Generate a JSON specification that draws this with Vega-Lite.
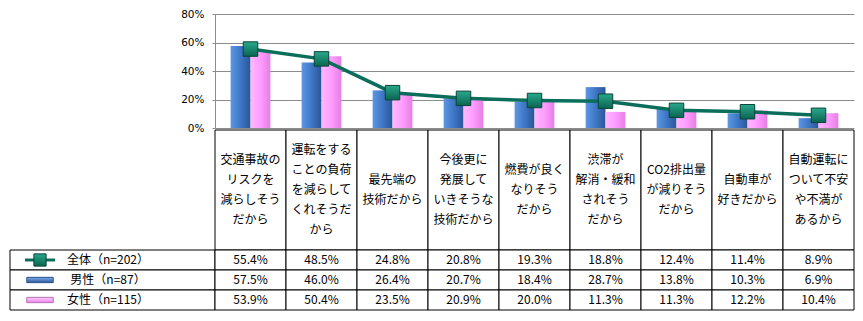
{
  "$schema": "https://vega.github.io/schema/vega-lite/v6.json",
  "padding": {"left": 9, "top": 9, "right": 5, "bottom": 5},
  "config": {"view": {"stroke": null}, "font": "Noto Sans CJK JP"},
  "datasets": {
    "d": [
      {"cat": "交通事故の\nリスクを\n減らしそう\nだから", "series": "全体（n=202）", "value": 0.554},
      {"cat": "運転をする\nことの負荷\nを減らして\nくれそうだ\nから", "series": "全体（n=202）", "value": 0.485},
      {"cat": "最先端の\n技術だから", "series": "全体（n=202）", "value": 0.248},
      {"cat": "今後更に\n発展して\nいきそうな\n技術だから", "series": "全体（n=202）", "value": 0.208},
      {"cat": "燃費が良く\nなりそう\nだから", "series": "全体（n=202）", "value": 0.193},
      {"cat": "渋滞が\n解消・緩和\nされそう\nだから", "series": "全体（n=202）", "value": 0.188},
      {"cat": "CO2排出量\nが減りそう\nだから", "series": "全体（n=202）", "value": 0.124},
      {"cat": "自動車が\n好きだから", "series": "全体（n=202）", "value": 0.114},
      {"cat": "自動運転に\nついて不安\nや不満が\nあるから", "series": "全体（n=202）", "value": 0.089},
      {"cat": "交通事故の\nリスクを\n減らしそう\nだから", "series": "男性（n=87）", "value": 0.575},
      {"cat": "運転をする\nことの負荷\nを減らして\nくれそうだ\nから", "series": "男性（n=87）", "value": 0.46},
      {"cat": "最先端の\n技術だから", "series": "男性（n=87）", "value": 0.264},
      {"cat": "今後更に\n発展して\nいきそうな\n技術だから", "series": "男性（n=87）", "value": 0.207},
      {"cat": "燃費が良く\nなりそう\nだから", "series": "男性（n=87）", "value": 0.184},
      {"cat": "渋滞が\n解消・緩和\nされそう\nだから", "series": "男性（n=87）", "value": 0.287},
      {"cat": "CO2排出量\nが減りそう\nだから", "series": "男性（n=87）", "value": 0.138},
      {"cat": "自動車が\n好きだから", "series": "男性（n=87）", "value": 0.103},
      {"cat": "自動運転に\nついて不安\nや不満が\nあるから", "series": "男性（n=87）", "value": 0.069},
      {"cat": "交通事故の\nリスクを\n減らしそう\nだから", "series": "女性（n=115）", "value": 0.539},
      {"cat": "運転をする\nことの負荷\nを減らして\nくれそうだ\nから", "series": "女性（n=115）", "value": 0.504},
      {"cat": "最先端の\n技術だから", "series": "女性（n=115）", "value": 0.235},
      {"cat": "今後更に\n発展して\nいきそうな\n技術だから", "series": "女性（n=115）", "value": 0.209},
      {"cat": "燃費が良く\nなりそう\nだから", "series": "女性（n=115）", "value": 0.2},
      {"cat": "渋滞が\n解消・緩和\nされそう\nだから", "series": "女性（n=115）", "value": 0.113},
      {"cat": "CO2排出量\nが減りそう\nだから", "series": "女性（n=115）", "value": 0.113},
      {"cat": "自動車が\n好きだから", "series": "女性（n=115）", "value": 0.122},
      {"cat": "自動運転に\nついて不安\nや不満が\nあるから", "series": "女性（n=115）", "value": 0.104}
    ],
    "series": [
      {"series": "全体（n=202）"},
      {"series": "男性（n=87）"},
      {"series": "女性（n=115）"}
    ]
  },
  "columns": 2,
  "spacing": 0,
  "bounds": "flush",
  "concat": [
    {
      "width": 205, "height": 116,
      "data": {"values": []},
      "mark": "text",
      "encoding": {}
    },
    {
      "width": 639, "height": 116,
      "data": {"name": "d"},
      "encoding": {
        "x": {"field": "cat", "type": "nominal", "sort": null, "axis": null,
              "scale": {"paddingInner": 0.44, "paddingOuter": 0.22}},
        "y": {"field": "value", "type": "quantitative",
              "scale": {"domain": [0, 0.8], "range": [114, 0], "nice": false},
              "axis": {"values": [0, 0.2, 0.4, 0.6, 0.8], "format": ".0%", "title": null,
                       "grid": true, "gridColor": "#8c8c8c", "gridOpacity": 1,
                       "domainColor": "#8c8c8c", "tickColor": "#8c8c8c", "tickSize": 3,
                       "labelPadding": 8, "labelFont": "DejaVu Sans", "labelFontSize": 10.5,
                       "labelColor": "#000000"}}
      },
      "layer": [
        {
          "transform": [{"filter": "datum.series === '男性（n=87）'"}],
          "mark": {"type": "bar", "fill": {"gradient": "linear", "x1": 0, "y1": 0, "x2": 1, "y2": 0,
                   "stops": [{"offset": 0, "color": "#5d97e2"}, {"offset": 0.5, "color": "#3f77c6"}, {"offset": 1, "color": "#2b5698"}]}},
          "encoding": {"xOffset": {"field": "series", "type": "nominal", "scale": {"domain": ["男性（n=87）", "女性（n=115）"]}}}
        },
        {
          "transform": [{"filter": "datum.series === '女性（n=115）'"}],
          "mark": {"type": "bar", "fill": {"gradient": "linear", "x1": 0, "y1": 0, "x2": 1, "y2": 0,
                   "stops": [{"offset": 0, "color": "#ffb8ff"}, {"offset": 0.5, "color": "#ff9cff"}, {"offset": 1, "color": "#e47fe4"}]}},
          "encoding": {"xOffset": {"field": "series", "type": "nominal", "scale": {"domain": ["男性（n=87）", "女性（n=115）"]}}}
        },
        {
          "transform": [{"filter": "datum.series === '全体（n=202）'"}],
          "mark": {"type": "line", "color": "#0b6e5a", "strokeWidth": 3.5}
        },
        {
          "transform": [{"filter": "datum.series === '全体（n=202）'"}],
          "mark": {"type": "point", "shape": "square", "size": 210, "filled": true, "opacity": 1,
                   "fill": {"gradient": "linear", "x1": 0, "y1": 0, "x2": 0, "y2": 1,
                            "stops": [{"offset": 0, "color": "#2aa88c"}, {"offset": 1, "color": "#0a6450"}]},
                   "stroke": "#0a4538", "strokeWidth": 1}
        }
      ]
    },
    {
      "width": 205, "height": 120,
      "data": {"values": []},
      "mark": "text",
      "encoding": {}
    },
    {
      "width": 639, "height": 120,
      "data": {"name": "d"},
      "transform": [{"filter": "datum.series === '全体（n=202）'"}],
      "encoding": {
        "x": {"field": "cat", "type": "nominal", "sort": null, "axis": null, "scale": {"padding": 0}}
      },
      "layer": [
        {"mark": {"type": "rect", "fill": "#ffffff", "stroke": "#000000", "strokeWidth": 1}},
        {"mark": {"type": "text", "lineBreak": "\n", "lineHeight": 20, "fontSize": 12, "baseline": "middle", "align": "center", "color": "#000000", "font": "Noto Sans CJK JP",
                  "dy": {"expr": "-(split(datum.cat, '\\n').length - 1) * 10"}},
         "encoding": {"text": {"field": "cat"}}}
      ]
    },
    {
      "width": 205, "height": 60,
      "data": {"name": "series"},
      "encoding": {
        "y": {"field": "series", "type": "nominal", "sort": null, "axis": null, "scale": {"padding": 0}}
      },
      "layer": [
        {"mark": {"type": "rect", "fill": "#ffffff", "stroke": "#000000", "strokeWidth": 1}},
        {"mark": {"type": "text", "fontSize": 12, "align": "center", "baseline": "middle", "color": "#000000", "font": "Noto Sans CJK JP"},
         "encoding": {"text": {"field": "series"},
                      "x": {"datum": "lab", "scale": {"type": "point", "domain": ["sym", "lab"], "range": [30, 98], "padding": 0}, "axis": null}}},
        {"transform": [{"filter": "datum.series === '全体（n=202）'"}],
         "mark": {"type": "point", "shape": "M-1,-0.1H1V0.1H-1Z", "size": 900, "filled": true, "opacity": 1, "fill": "#0b6e5a", "strokeWidth": 0},
         "encoding": {"x": {"datum": "sym"}}},
        {"transform": [{"filter": "datum.series === '全体（n=202）'"}],
         "mark": {"type": "point", "shape": "square", "size": 150, "filled": true, "opacity": 1,
                  "fill": {"gradient": "linear", "x1": 0, "y1": 0, "x2": 0, "y2": 1,
                           "stops": [{"offset": 0, "color": "#2aa88c"}, {"offset": 1, "color": "#0a6450"}]},
                  "stroke": "#0a4538", "strokeWidth": 1},
         "encoding": {"x": {"datum": "sym"}}},
        {"transform": [{"filter": "datum.series === '男性（n=87）'"}],
         "mark": {"type": "point", "shape": "M-1,-0.2H1V0.2H-1Z", "size": 700, "filled": true, "opacity": 1,
                  "fill": {"gradient": "linear", "x1": 0, "y1": 0, "x2": 0, "y2": 1,
                           "stops": [{"offset": 0, "color": "#7fb0ee"}, {"offset": 1, "color": "#2b5698"}]},
                  "stroke": "#2a4f8a", "strokeWidth": 1},
         "encoding": {"x": {"datum": "sym"}}},
        {"transform": [{"filter": "datum.series === '女性（n=115）'"}],
         "mark": {"type": "point", "shape": "M-1,-0.2H1V0.2H-1Z", "size": 700, "filled": true, "opacity": 1,
                  "fill": {"gradient": "linear", "x1": 0, "y1": 0, "x2": 0, "y2": 1,
                           "stops": [{"offset": 0, "color": "#ffd0ff"}, {"offset": 1, "color": "#ee7fee"}]},
                  "stroke": "#b070b0", "strokeWidth": 1},
         "encoding": {"x": {"datum": "sym"}}}
      ]
    },
    {
      "width": 639, "height": 60,
      "data": {"name": "d"},
      "encoding": {
        "x": {"field": "cat", "type": "nominal", "sort": null, "axis": null, "scale": {"padding": 0}},
        "y": {"field": "series", "type": "nominal", "sort": null, "axis": null, "scale": {"padding": 0}}
      },
      "layer": [
        {"mark": {"type": "rect", "fill": "#ffffff", "stroke": "#000000", "strokeWidth": 1}},
        {"mark": {"type": "text", "fontSize": 12, "align": "center", "baseline": "middle", "color": "#000000", "font": "Noto Sans CJK JP"},
         "encoding": {"text": {"field": "value", "type": "quantitative", "format": ".1%"}}}
      ]
    }
  ]
}
